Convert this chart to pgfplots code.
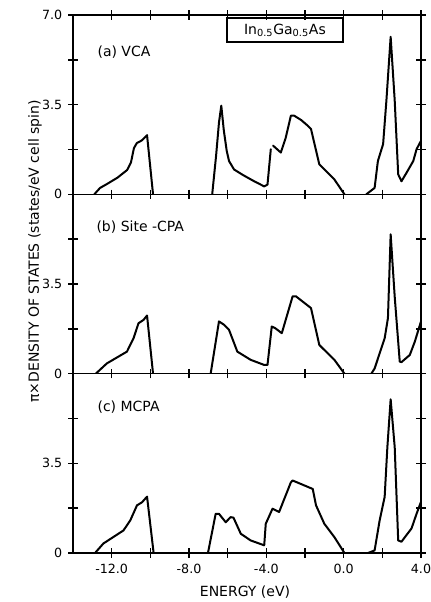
\documentclass[border=0pt]{standalone}
\usepackage{fontspec}
\setmainfont{DejaVu Sans}
\usepackage{pgfplots}
\pgfplotsset{compat=1.18}

\pgfplotsset{
  dospanel/.style={
    scale only axis, width=261pt, height=134.5pt,
    anchor=south west, axis on top,
    xmin=-14, xmax=4, ymin=0, ymax=7,
    xtick={-12,-8,-4,0,4}, minor xtick={-10,-6,-2,2},
    ytick={0,3.5,7}, minor ytick={1.75,5.25},
    tick align=center, tick pos=both,
    major tick length=7pt, minor tick length=7pt,
    every tick/.style={black, line width=1.1pt},
    axis line style={line width=1.1pt},
    /pgf/number format/assume math mode=true,
    tick label style={font=\fontsize{9.5}{11}\selectfont},
    yticklabel style={xshift=-1pt},
    xticklabel style={yshift=-1pt},
    xticklabels={},
  },
  dos/.style={black, line width=1.5pt, line join=round, line cap=round, no markers},
}
\tikzset{lbl/.style={anchor=west, font=\fontsize{10.5}{12}\selectfont}}

\begin{document}
\begin{tikzpicture}

% (a) VCA
\begin{axis}[dospanel, at={(54.75pt,305.75pt)}, yticklabels={0,3.5,7.0}]
\addplot[dos] coordinates {(-12.9,0) (-12.6,0.25) (-12.25,0.4) (-11.7,0.65) (-11.2,0.95)
  (-11.0,1.25) (-10.85,1.8) (-10.7,2.0) (-10.45,2.1) (-10.17,2.31) (-9.86,0)};
\addplot[dos] coordinates {(-6.8,0) (-6.6,1.5) (-6.45,2.8) (-6.33,3.46) (-6.2,2.5)
  (-6.05,1.7) (-5.93,1.3) (-5.67,0.97) (-5.2,0.75) (-4.63,0.51) (-4.11,0.31)
  (-3.94,0.38) (-3.77,1.76)};
\addplot[dos] coordinates {(-3.65,1.9) (-3.25,1.63) (-3.0,2.2) (-2.73,3.07) (-2.56,3.07)
  (-2.2,2.9) (-1.86,2.68) (-1.69,2.55) (-1.26,1.17) (-0.48,0.58) (0.04,0)};
\addplot[dos] coordinates {(1.17,0) (1.6,0.25) (1.77,1.3) (2.04,1.96) (2.21,3.66)
  (2.43,6.15) (2.64,3.66) (2.82,0.78) (2.99,0.51) (3.25,0.84) (3.6,1.3) (3.77,1.76) (4.0,2.09)};
\node[lbl] at (rel axis cs:0.057,0.794) {(a) VCA};
\node[draw, line width=0.9pt, minimum width=87pt, minimum height=18pt, inner sep=2pt,
  font=\fontsize{10.5}{12}\selectfont] at (rel axis cs:0.609,0.916)
  {In\textsubscript{0.5}Ga\textsubscript{0.5}As};
\end{axis}

% (b) Site-CPA
\begin{axis}[dospanel, at={(54.75pt,171.25pt)}, yticklabels={0,3.5,{}}]
\addplot[dos] coordinates {(-12.82,0) (-12.25,0.4) (-11.21,0.86) (-10.87,1.38)
  (-10.61,1.97) (-10.35,2.1) (-10.17,2.27) (-9.86,0)};
\addplot[dos] coordinates {(-6.88,0) (-6.45,2.04) (-6.19,1.91) (-5.93,1.71) (-5.5,0.86)
  (-4.81,0.54) (-4.11,0.34) (-3.94,0.34) (-3.72,1.84) (-3.55,1.78) (-3.2,1.58)
  (-2.64,3.02) (-2.47,3.02) (-1.69,2.56) (-1.26,1.12) (-0.48,0.54) (0.04,0)};
\addplot[dos] coordinates {(1.43,0) (1.6,0.2) (2.12,1.38) (2.29,2.17) (2.43,5.44)
  (2.64,3.0) (2.9,0.47) (2.99,0.45) (3.42,0.73) (3.68,1.25) (4.0,2.04)};
\node[lbl] at (rel axis cs:0.054,0.82) {(b) Site -CPA};
\end{axis}

% (c) MCPA
\begin{axis}[dospanel, at={(54.75pt,36.75pt)}, yticklabels={0,3.5,{}},
  xticklabels={-12.0,-8.0,-4.0,0.0,4.0}]
\addplot[dos] coordinates {(-12.86,0) (-12.43,0.37) (-11.39,0.88) (-11.04,1.27)
  (-10.69,1.86) (-10.43,1.98) (-10.17,2.2) (-9.83,0)};
\addplot[dos] coordinates {(-7.02,0) (-6.62,1.53) (-6.45,1.53) (-6.1,1.2) (-5.85,1.4)
  (-5.7,1.38) (-5.32,0.75) (-4.81,0.49) (-4.11,0.3) (-4.03,1.14) (-3.68,1.73)
  (-3.34,1.6) (-2.73,2.76) (-2.64,2.83) (-1.6,2.5) (-1.43,1.86) (-1.0,1.14)
  (-0.48,0.62) (0.04,0)};
\addplot[dos] coordinates {(1.26,0) (1.6,0.1) (1.86,1.27) (2.12,2.19) (2.26,4.13)
  (2.43,6.0) (2.64,4.13) (2.82,0.49) (2.99,0.44) (3.51,0.96) (3.77,1.53) (3.99,1.98)};
\node[lbl] at (rel axis cs:0.057,0.816) {(c) MCPA};
\end{axis}

\node[rotate=90, font=\fontsize{10.5}{12}\selectfont] at (26.25pt,262.9pt)
  {π×DENSITY OF STATES (states/eV cell spin)};
\node[font=\fontsize{10.5}{12}\selectfont] at (183.75pt,7.5pt) {ENERGY (eV)};

\pgfresetboundingbox
\path[use as bounding box] (0,0) rectangle (323.25pt,451.5pt);
\end{tikzpicture}
\end{document}
